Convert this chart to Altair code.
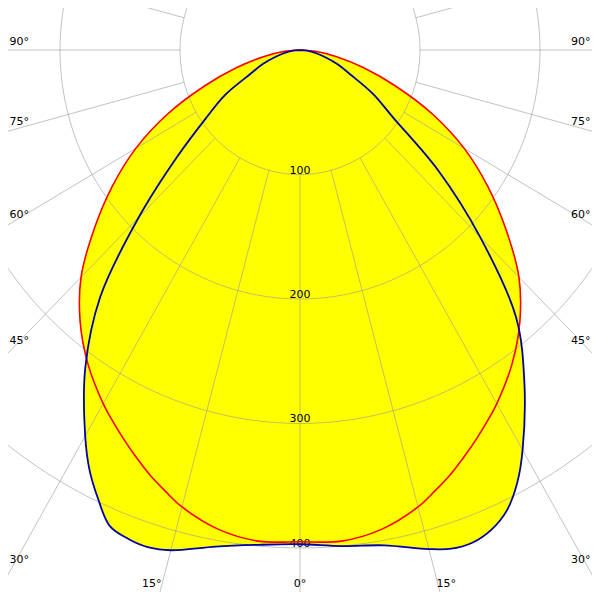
import altair as alt
import pandas as pd

# ---- data (candela values per gamma angle) ----
gamma = [0, 5, 10, 15, 17.5, 20, 22.5, 25, 27.5, 30, 35, 40, 45, 50, 55, 60, 65, 70, 75, 80, 85, 90]
red_plane = [395, 396, 391, 380, 372, 364, 355, 346, 337, 328, 308, 285, 258, 224, 191, 158, 122, 85, 55, 31, 14, 0]
blue_left = [397, 399, 405, 416, 419, 418, 414, 398, 380, 358, 312, 259, 190, 134, 96, 72, 46, 33, 21, 13, 6, 0]
blue_right = [397, 400, 404, 415, 420, 421, 417, 408, 392, 371, 326, 280, 212, 150, 95, 70, 46, 33, 21, 13, 6, 0]

rings = [100, 200, 300, 400]
ring_labels = ["100", "200", "300", "400"]
spoke_angles = list(range(0, 360, 15))
side_angles = [90, 75, 60, 45, 30]
side_labels = ["90°", "75°", "60°", "45°", "30°"]
bottom_left_angles = [-15]
bottom_left_labels = ["15°"]
bottom_mid_angles = [0]
bottom_mid_labels = ["0°"]
bottom_right_angles = [15]
bottom_right_labels = ["15°"]


def polygon(name, left, right):
    rows = []
    for g, v in zip(reversed(gamma), reversed(left)):
        rows.append({"curve": name, "angle": -g, "value": v})
    for g, v in zip(gamma[1:], right[1:]):
        rows.append({"curve": name, "angle": g, "value": v})
    for i, r in enumerate(rows):
        r["idx"] = i
    return rows


curves = pd.DataFrame(polygon("red", red_plane, red_plane) + polygon("blue", blue_left, blue_right))

circle_df = pd.DataFrame([{"ring": r, "deg": d} for r in rings for d in range(0, 362, 2)])
spoke_df = pd.DataFrame([{"angle": a, "r": r} for a in spoke_angles for r in (100, 900)])
ring_df = pd.DataFrame({"ring": rings, "label": ring_labels})
side_df = pd.DataFrame({"angle": side_angles, "label": side_labels})

XS = alt.Scale(domain=[-250, 250], nice=False, zero=False)
YS = alt.Scale(domain=[-441.8, 40.2], nice=False, zero=False)


def xy(ch):
    return ch.encode(
        x=alt.X("x:Q", scale=XS, axis=None),
        y=alt.Y("y:Q", scale=YS, axis=None),
    )


polar_calc = dict(
    x="datum.value * sin(datum.angle * PI / 180)",
    y="-datum.value * cos(datum.angle * PI / 180)",
)

fill_layer = xy(
    alt.Chart(curves)
    .mark_line(fill="#FFFF00", stroke="#FFFF00", strokeWidth=1, interpolate="catmull-rom", clip=True)
    .transform_calculate(**polar_calc)
).encode(detail="curve:N", order="idx:Q")

circle_layer = xy(
    alt.Chart(circle_df)
    .mark_line(stroke="#9A9A9A", strokeOpacity=0.6, strokeWidth=1, clip=True)
    .transform_calculate(
        x="datum.ring * sin(datum.deg * PI / 180)",
        y="datum.ring * cos(datum.deg * PI / 180)",
    )
).encode(detail="ring:N", order="deg:Q")

spoke_layer = xy(
    alt.Chart(spoke_df)
    .mark_line(stroke="#9A9A9A", strokeOpacity=0.6, strokeWidth=1, clip=True)
    .transform_calculate(
        x="datum.r * sin(datum.angle * PI / 180)",
        y="-datum.r * cos(datum.angle * PI / 180)",
    )
).encode(detail="angle:N", order="r:Q")

font = dict(font="DejaVu Sans", fontSize=11, color="black")

ring_text = xy(
    alt.Chart(ring_df)
    .mark_text(align="center", baseline="alphabetic", dy=-1, **font)
    .transform_calculate(x="0", y="-datum.ring")
).encode(text="label:N")

side_left = xy(
    alt.Chart(side_df)
    .mark_text(align="left", baseline="middle", dy=-8, **font)
    .transform_calculate(x="-242", y="-240 * cos(datum.angle * PI / 180) / sin(datum.angle * PI / 180)")
).encode(text="label:N")

side_right = xy(
    alt.Chart(side_df)
    .mark_text(align="right", baseline="middle", dy=-8, **font)
    .transform_calculate(x="242", y="-240 * cos(datum.angle * PI / 180) / sin(datum.angle * PI / 180)")
).encode(text="label:N")


def bottom(angles, labels, align, dx):
    df = pd.DataFrame({"angle": angles, "label": labels})
    return xy(
        alt.Chart(df)
        .mark_text(align=align, baseline="middle", dx=dx, **font)
        .transform_calculate(x="431 * tan(datum.angle * PI / 180)", y="-429")
    ).encode(text="label:N")


bl = bottom(bottom_left_angles, bottom_left_labels, "right", 0)
bm = bottom(bottom_mid_angles, bottom_mid_labels, "center", 0)
br = bottom(bottom_right_angles, bottom_right_labels, "left", -2)

red_line = xy(
    alt.Chart(curves)
    .transform_filter("datum.curve == 'red'")
    .mark_line(stroke="#FF0000", strokeWidth=1.6, interpolate="catmull-rom", clip=True)
    .transform_calculate(**polar_calc)
).encode(order="idx:Q")

blue_line = xy(
    alt.Chart(curves)
    .transform_filter("datum.curve == 'blue'")
    .mark_line(stroke="#0000A8", strokeWidth=1.8, interpolate="catmull-rom", clip=True)
    .transform_calculate(**polar_calc)
).encode(order="idx:Q")

chart = (
    alt.layer(fill_layer, circle_layer, spoke_layer, ring_text, side_left, side_right, bl, bm, br, red_line, blue_line)
    .properties(
        width=600,
        height=600,
        autosize="none",
        padding={"left": -8, "top": -8, "right": -8, "bottom": -8},
        background="white",
    )
    .configure_view(stroke="black", strokeWidth=4)
)

chart.save("out.html", embed_options={"renderer": "svg", "actions": False})
